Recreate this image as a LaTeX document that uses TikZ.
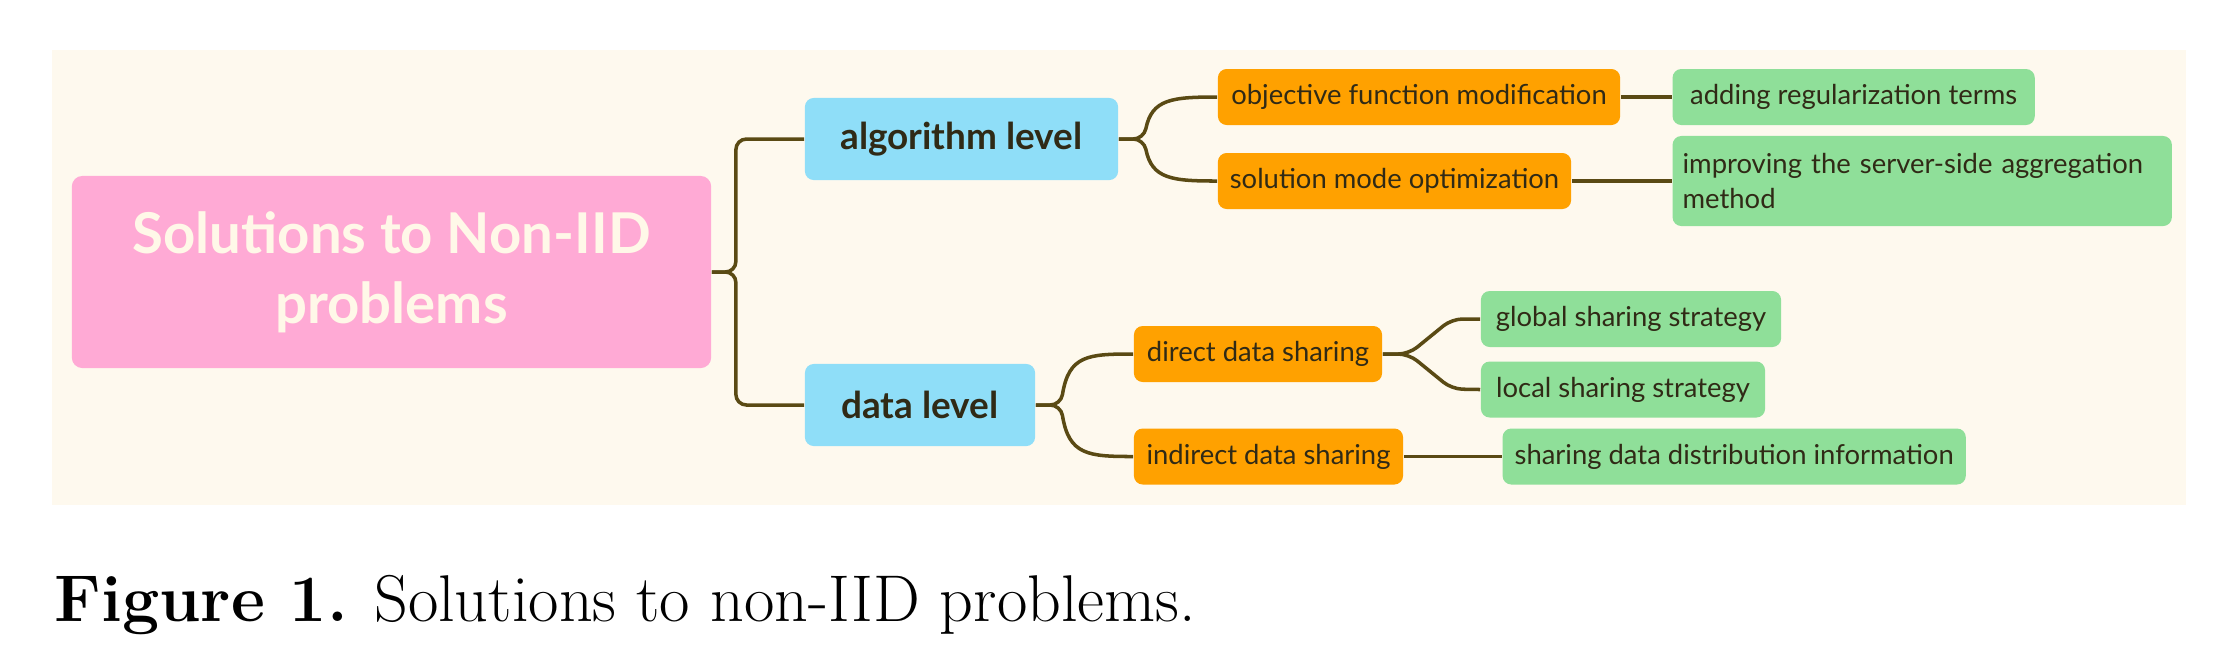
\documentclass[tikz,border=0pt]{standalone}
\usepackage{fontspec}
\usepackage{xcolor}
\usepackage{tikz}
\usetikzlibrary{positioning}
\newfontfamily\mapfont{Lato}
\definecolor{mycream}{RGB}{254,249,238}
\definecolor{mypink}{RGB}{255,170,213}
\definecolor{myblue}{RGB}{143,222,248}
\definecolor{myorange}{RGB}{255,161,0}
\definecolor{mygreen}{RGB}{143,223,153}
\definecolor{myline}{RGB}{90,74,20}
\definecolor{mytext}{RGB}{48,42,22}
\definecolor{myroottext}{RGB}{255,248,232}

\begin{document}
\begin{tikzpicture}[
    x=0.01cm, y=-0.01cm,
    rootbox/.style={rectangle, rounded corners=3pt, fill=mypink, text=myroottext, align=center, font=\mapfont\bfseries\fontsize{16}{20}\selectfont, minimum width=6.39cm, minimum height=1.92cm},
    levelbox/.style={rectangle, rounded corners=2.5pt, fill=myblue, text=mytext, font=\mapfont\bfseries\fontsize{10.5}{12}\selectfont, minimum height=0.82cm},
    methodbox/.style={rectangle, rounded corners=2.5pt, fill=myorange, text=mytext, font=\mapfont\fontsize{7.8}{10}\selectfont, minimum height=0.56cm},
    leafbox/.style={rectangle, rounded corners=2.5pt, fill=mygreen, text=mytext, font=\mapfont\fontsize{7.8}{10}\selectfont, minimum height=0.56cm},
    link/.style={draw=myline, line width=1pt, rounded corners=3pt},
]
    \useasboundingbox (0,0) rectangle (2224,656);
    % Background
    \fill[mycream] (52,50) rectangle (2186,505);

    % Root
    \node[rootbox] (root) at (391.5,272) {Solutions to Non-IID\\problems};
    % Levels
    \node[levelbox, minimum width=3.13cm] (algo) at (961.5,139) {algorithm level};
    \node[levelbox, minimum width=2.30cm] (data) at (920,405) {data level};
    % Algorithm level branches
    \node[methodbox, minimum width=4.02cm] (obj) at (1419,97) {objective function modification};
    \node[methodbox, minimum width=3.53cm] (sol) at (1394.5,181) {solution mode optimization};
    \node[leafbox, minimum width=3.62cm, right=0.51cm of obj] (reg) {adding regularization terms};
    \node[leafbox, minimum width=4.99cm, minimum height=0.90cm, inner xsep=0.1cm, text width=4.79cm, align=left, right=1.00cm of sol] (agg) {improving the server-side aggregation method};
    % Data level branches
    \node[methodbox, minimum width=2.48cm] (direct) at (1258,354) {direct data sharing};
    \node[methodbox, minimum width=2.69cm] (indirect) at (1268.5,456.5) {indirect data sharing};
    \node[leafbox, minimum width=3.00cm] (global) at (1631,319) {global sharing strategy};
    \node[leafbox, minimum width=2.84cm] (local) at (1623,389.5) {local sharing strategy};
    \node[leafbox, minimum width=4.63cm, right=0.98cm of indirect] (distinfo) {sharing data distribution information};

    % Connectors
    \draw[link] (root.east) -- ++(24,0) |- (algo.west);
    \draw[link] (root.east) -- ++(24,0) |- (data.west);
    \draw[link] (algo.east) -- ++(25,0) .. controls +(8,-40) and +(-45,0) .. (obj.west);
    \draw[link] (algo.east) -- ++(25,0) .. controls +(8,40) and +(-45,0) .. (sol.west);
    \draw[link] (data.east) -- ++(25,0) .. controls +(8,-50) and +(-45,0) .. (direct.west);
    \draw[link] (data.east) -- ++(25,0) .. controls +(8,50) and +(-45,0) .. (indirect.west);
    \draw[link] (direct.east) -- ++(26,0) -- ++(43,-35) -- (global.west);
    \draw[link] (direct.east) -- ++(26,0) -- ++(43,35) -- (local.west);
    \draw[link] (obj) -- (reg);
    \draw[link] (sol) -- (agg);
    \draw[link] (indirect) -- (distinfo);

    % Caption
    \node[anchor=base west, inner sep=0pt, font=\fontsize{18.8}{22}\selectfont] (caption) at (54,621) {\textbf{Figure 1.} Solutions to non-IID problems.};
\end{tikzpicture}
\end{document}
